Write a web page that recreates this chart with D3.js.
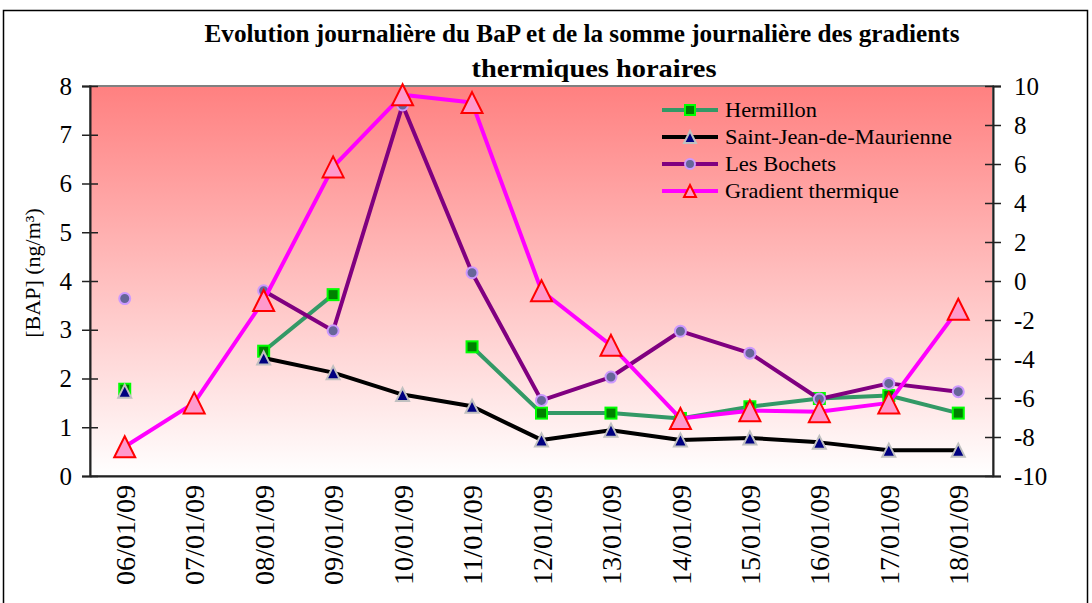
<!DOCTYPE html>
<html>
<head>
<meta charset="utf-8">
<script src="https://cdn.jsdelivr.net/npm/d3@7"></script>
<style>
  html, body { margin: 0; padding: 0; background: #fff; }
  svg { display: block; }
  svg text { font-family: "Liberation Serif", "Times New Roman", Times, serif !important; }
</style>
</head>
<body>
<svg id="chart" width="1092" height="603"></svg>
<script>
// Daily dates (January 2009)
const dates = ["06/01/09","07/01/09","08/01/09","09/01/09","10/01/09","11/01/09","12/01/09",
               "13/01/09","14/01/09","15/01/09","16/01/09","17/01/09","18/01/09"];

// BaP concentrations, ng/m³ (null = no measurement)
const hermillon     = [1.78, null, 2.56, 3.72, null, 2.65, 1.29, 1.29, 1.18, 1.42, 1.59, 1.65, 1.29];
const saintJean     = [1.74, null, 2.42, 2.12, 1.67, 1.43, 0.74, 0.94, 0.74, 0.78, 0.69, 0.53, 0.53];
const lesBochets    = [3.64, null, 3.80, 2.98, 7.61, 4.17, 1.55, 2.03, 2.97, 2.52, 1.58, 1.90, 1.73];

// Mean thermal gradient, °C/100m
const gradient      = [-8.5, -6.25, -1.0, 5.85, 9.55, 9.15, -0.5, -3.3, -7.05, -6.65, -6.7, -6.25, -1.45];

const leftTicks  = [0,1,2,3,4,5,6,7,8];
const rightTicks = [-10,-8,-6,-4,-2,0,2,4,6,8,10];

const svg = d3.select("#chart");
const plot = {left: 90, right: 993, top: 86, bottom: 476};

const x = d3.scaleBand().domain(dates).range([plot.left, plot.right]);
const cx = d => x(d) + x.bandwidth() / 2;
const yL = d3.scaleLinear().domain([0, 8]).range([plot.bottom, plot.top]);
const yR = d3.scaleLinear().domain([-10, 10]).range([plot.bottom, plot.top]);
const plainNum = d => String(d);

// Outer frame
svg.append("rect").attr("x", 3.5).attr("y", 10.5).attr("width", 1084).attr("height", 640)
  .attr("fill", "none").attr("stroke", "#000").attr("stroke-width", 1.5);

// Plot background gradient
const defs = svg.append("defs");
const lg = defs.append("linearGradient").attr("id", "bg").attr("x1", 0).attr("y1", 0).attr("x2", 0).attr("y2", 1);
lg.append("stop").attr("offset", "0%").attr("stop-color", "#FF8080");
lg.append("stop").attr("offset", "100%").attr("stop-color", "#FFFFFF");

svg.append("rect")
  .attr("x", plot.left).attr("y", plot.top)
  .attr("width", plot.right - plot.left).attr("height", plot.bottom - plot.top)
  .attr("fill", "url(#bg)").attr("stroke", "#808080").attr("stroke-width", 2);

// Title
const title = svg.append("g").attr("font-weight", "bold").attr("font-size", 25).attr("text-anchor", "middle").attr("fill", "#000");
title.append("text").attr("x", 582).attr("y", 42)
  .attr("textLength", 755).attr("lengthAdjust", "spacingAndGlyphs")
  .text("Evolution journalière du BaP et de la somme journalière des gradients");
title.append("text").attr("x", 594).attr("y", 77)
  .attr("textLength", 245).attr("lengthAdjust", "spacingAndGlyphs")
  .text("thermiques horaires");

// Left axis
const axL = svg.append("g").attr("transform", `translate(${plot.left},0)`)
  .call(d3.axisLeft(yL).tickValues(leftTicks).tickFormat(plainNum).tickSize(8).tickPadding(10));
axL.select(".domain").attr("stroke", "#222").attr("stroke-width", 2);
axL.selectAll(".tick line").attr("x1", 8).attr("stroke", "#222").attr("stroke-width", 1.5);
axL.selectAll(".tick text").attr("font-size", 25).attr("fill", "#000");

// Right axis
const axR = svg.append("g").attr("transform", `translate(${plot.right},0)`)
  .call(d3.axisRight(yR).tickValues(rightTicks).tickFormat(plainNum).tickSize(8).tickPadding(13));
axR.select(".domain").attr("stroke", "#222").attr("stroke-width", 2);
axR.selectAll(".tick line").attr("x1", -8).attr("stroke", "#222").attr("stroke-width", 1.5);
axR.selectAll(".tick text").attr("font-size", 25).attr("fill", "#000");

// Bottom axis (no tick marks, rotated labels)
const axB = svg.append("g").attr("transform", `translate(0,${plot.bottom})`)
  .call(d3.axisBottom(x).tickSize(0).tickPadding(0));
axB.select(".domain").attr("stroke", "#222").attr("stroke-width", 2);
axB.selectAll(".tick text")
  .attr("font-size", 28).attr("fill", "#000")
  .attr("text-anchor", "end")
  .attr("transform", "translate(0,9) rotate(-90)")
  .attr("x", 0).attr("y", 0).attr("dy", "0.36em")
  .attr("textLength", 100).attr("lengthAdjust", "spacingAndGlyphs");

// Axis titles
svg.append("text")
  .attr("transform", "translate(40,273) rotate(-90)")
  .attr("text-anchor", "middle").attr("font-size", 22).attr("fill", "#000")
  .text("[BAP] (ng/m³)");

defs.append("clipPath").attr("id", "rclip")
  .append("rect").attr("x", 1040).attr("y", 97).attr("width", 52).attr("height", 500);
svg.append("text")
  .attr("clip-path", "url(#rclip)")
  .attr("transform", "translate(1080,436) rotate(-90)")
  .attr("text-anchor", "start").attr("font-size", 22).attr("fill", "#000")
  .text("Gradient thermique moyen (°C/100m)");

// Series definitions
const series = [
  {name: "Hermillon", values: hermillon, y: yL, line: "#339966", width: 4,
   shape: "square", size: 11, fill: "#008000", stroke: "#00FF00"},
  {name: "Saint-Jean-de-Maurienne", values: saintJean, y: yL, line: "#000000", width: 4,
   shape: "triangle", size: 13, fill: "#000080", stroke: "#C0C0C0"},
  {name: "Les Bochets", values: lesBochets, y: yL, line: "#800080", width: 4,
   shape: "circle", size: 11, fill: "#666699", stroke: "#CC99FF"},
  {name: "Gradient thermique", values: gradient, y: yR, line: "#FF00FF", width: 4,
   shape: "triangle", size: 21, fill: "#FF99CC", stroke: "#FF0000"}
];

function drawMarker(g, s, px, py, size) {
  const h = size / 2;
  if (s.shape === "square") {
    g.append("rect").attr("x", px - h).attr("y", py - h).attr("width", size).attr("height", size)
      .attr("fill", s.fill).attr("stroke", s.stroke).attr("stroke-width", 2);
  } else if (s.shape === "circle") {
    g.append("circle").attr("cx", px).attr("cy", py).attr("r", h)
      .attr("fill", s.fill).attr("stroke", s.stroke).attr("stroke-width", 2);
  } else {
    g.append("path")
      .attr("d", `M${px},${py - h}L${px + h},${py + h}L${px - h},${py + h}Z`)
      .attr("fill", s.fill).attr("stroke", s.stroke).attr("stroke-width", 2).attr("stroke-linejoin", "miter");
  }
}

series.forEach(s => {
  const g = svg.append("g");
  const pts = dates.map((d, i) => ({d, v: s.values[i]}));
  const line = d3.line().defined(p => p.v !== null).x(p => cx(p.d)).y(p => s.y(p.v));
  g.append("path").attr("d", line(pts)).attr("fill", "none")
    .attr("stroke", s.line).attr("stroke-width", s.width).attr("stroke-linejoin", "round");
  pts.filter(p => p.v !== null).forEach(p => drawMarker(g, s, cx(p.d), s.y(p.v), s.size));
});

// Legend
const legendRows = [110, 137, 164, 191];
const legendWidths = [92, 227, 111, 174];
const leg = svg.append("g");
series.forEach((s, i) => {
  const ly = legendRows[i];
  leg.append("line").attr("x1", 662).attr("x2", 718).attr("y1", ly).attr("y2", ly)
    .attr("stroke", s.line).attr("stroke-width", 4);
  drawMarker(leg, s, 690, ly, s.shape === "triangle" ? 12 : 10);
  leg.append("text").attr("x", 725).attr("y", ly).attr("dy", "0.33em")
    .attr("font-size", 22).attr("fill", "#000")
    .attr("textLength", legendWidths[i]).attr("lengthAdjust", "spacingAndGlyphs")
    .text(s.name);
});
</script>
</body>
</html>
